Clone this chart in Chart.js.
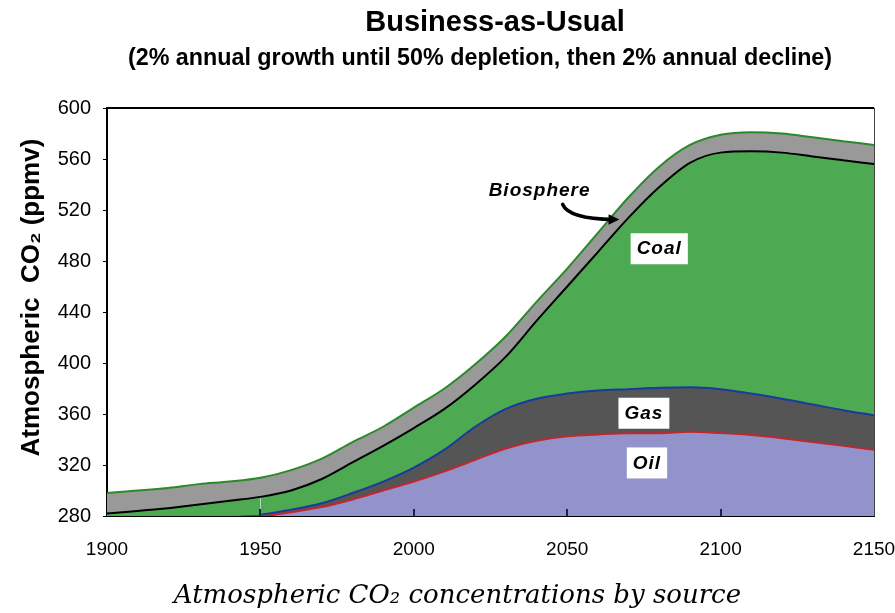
<!DOCTYPE html>
<html>
<head>
<meta charset="utf-8">
<script src="https://cdn.jsdelivr.net/npm/chart.js@4.4.1/dist/chart.umd.min.js"></script>
<style>
  html, body { margin: 0; padding: 0; background: #fff; }
  #wrap { width: 895px; height: 613px; }
</style>
</head>
<body>
<div id="wrap"><canvas id="chartCO2"></canvas></div>
<script>
// values: top edge of each stacked band, ppmv
const years   = [1900, 1910, 1920, 1930, 1940, 1950, 1960, 1970, 1980, 1990, 2000, 2010, 2020,
                 2030, 2040, 2050, 2060, 2070, 2080, 2090, 2100, 2110, 2120, 2130, 2140, 2150];
const oilTop  = [280, 280, 280, 280, 280, 280, 283, 287, 293, 300, 307, 315, 324,
                 333, 339, 342.5, 344, 345, 345, 346, 345, 343.5, 341, 338, 335, 332];
const gasTop  = [280, 280, 280, 280, 280, 281, 285, 290, 298, 307, 318, 332, 350,
                 364, 372, 376, 378.5, 379.5, 380.5, 381, 379.5, 376, 372, 367.5, 363, 359];
const coalTop = [282, 284, 286, 289, 292, 295, 300, 309, 322, 335, 349, 364, 383,
                 405, 433, 460, 487, 514, 538, 557, 565, 566, 565, 562, 559, 556];
const bioTop  = [298, 300, 302, 305, 307, 310, 316, 325, 338, 350, 365, 380, 399,
                 421, 448, 474, 502, 530, 554, 571, 579, 581, 580, 577, 574, 571];

const xTicks = [1900, 1950, 2000, 2050, 2100, 2150];
const yTicks = [280, 320, 360, 400, 440, 480, 520, 560, 600];

const titleText = "Business-as-Usual";
const subtitleText = "(2% annual growth until 50% depletion, then 2% annual decline)";

// in-plot labels, placed in data units
const notes = [
    { text: "Biosphere", year: 2041, ppm: 536, box: false },
    { text: "Coal", year: 2080, ppm: 490, box: true },
    { text: "Gas", year: 2075, ppm: 361, box: true },
    { text: "Oil", year: 2076, ppm: 322, box: true }
];
const arrowPath = [[2048.5, 524.5], [2050.5, 513], [2067, 512.5]];

Chart.defaults.color = "#000";
Chart.defaults.font.family = "'Liberation Sans', Arial, sans-serif";

const pts = arr => arr.map((v, i) => ({ x: years[i], y: v }));
const hideEarly = color => ctx => (ctx.p1.parsed.x <= 1950 ? "rgba(0,0,0,0)" : color);

// headings sit off-centre in the original, so they are drawn by hand
const headingPlugin = {
    id: "heading",
    afterDraw(chart) {
        const { ctx } = chart;
        ctx.save();
        ctx.fillStyle = "#000";
        ctx.textAlign = "center";
        ctx.textBaseline = "middle";
        ctx.font = "bold 29px 'Liberation Sans', Arial, sans-serif";
        ctx.fillText(titleText, 495, 23);
        ctx.font = "bold 23.3px 'Liberation Sans', Arial, sans-serif";
        ctx.fillText(subtitleText, 480, 59);
        ctx.restore();
    }
};

const framePlugin = {
    id: "frame",
    afterDraw(chart) {
        const { ctx, chartArea: a, scales: { x } } = chart;
        ctx.save();
        ctx.strokeStyle = "#000";
        ctx.lineWidth = 2;
        ctx.beginPath();
        ctx.moveTo(a.left, a.top);
        ctx.lineTo(a.right, a.top);
        ctx.stroke();
        ctx.strokeStyle = "#444";
        ctx.lineWidth = 1;
        ctx.beginPath();
        ctx.moveTo(a.right + 0.5, a.top);
        ctx.lineTo(a.right + 0.5, a.bottom);
        ctx.stroke();
        // small inward ticks on the year axis
        ctx.strokeStyle = "#1c2150";
        ctx.lineWidth = 2;
        xTicks.slice(1, -1).forEach(v => {
            const px = Math.round(x.getPixelForValue(v));
            ctx.beginPath();
            ctx.moveTo(px, a.bottom);
            ctx.lineTo(px, a.bottom - 7);
            ctx.stroke();
        });
        ctx.restore();
    }
};

const notesPlugin = {
    id: "notes",
    afterDatasetsDraw(chart) {
        const { ctx, scales: { x, y } } = chart;
        ctx.save();
        ctx.font = "italic bold 19px 'Liberation Sans', Arial, sans-serif";
        ctx.letterSpacing = "1px";
        ctx.textAlign = "center";
        ctx.textBaseline = "middle";
        notes.forEach(n => {
            const px = x.getPixelForValue(n.year);
            const py = y.getPixelForValue(n.ppm);
            if (n.box) {
                const w = ctx.measureText(n.text).width + 12;
                ctx.fillStyle = "#fff";
                ctx.fillRect(px - w / 2, py - 15, w, 31);
            }
            ctx.fillStyle = "#000";
            ctx.fillText(n.text, px, py + 1);
        });

        // curved arrow from "Biosphere" to the grey band
        const p = arrowPath.map(([yr, v]) => [x.getPixelForValue(yr), y.getPixelForValue(v)]);
        ctx.strokeStyle = "#000";
        ctx.lineWidth = 3.5;
        ctx.lineCap = "round";
        ctx.beginPath();
        ctx.moveTo(p[0][0], p[0][1]);
        ctx.quadraticCurveTo(p[1][0], p[1][1], p[2][0] - 6, p[2][1]);
        ctx.stroke();
        const ang = Math.atan2(p[2][1] - p[1][1], p[2][0] - p[1][0]);
        ctx.fillStyle = "#000";
        ctx.beginPath();
        ctx.moveTo(p[2][0], p[2][1]);
        ctx.lineTo(p[2][0] - 12 * Math.cos(ang - 0.45), p[2][1] - 12 * Math.sin(ang - 0.45));
        ctx.lineTo(p[2][0] - 12 * Math.cos(ang + 0.45), p[2][1] - 12 * Math.sin(ang + 0.45));
        ctx.closePath();
        ctx.fill();
        ctx.restore();
    }
};

const canvas = document.getElementById("chartCO2");
new Chart(canvas, {
    type: "line",
    data: {
        datasets: [
            {
                label: "Oil",
                data: pts(oilTop),
                backgroundColor: "#9393cb",
                borderColor: "#c0282d",
                segment: { borderColor: hideEarly("#c0282d") },
                fill: { value: 280 }
            },
            {
                label: "Gas",
                data: pts(gasTop),
                backgroundColor: "#555555",
                borderColor: "#1a3a9c",
                segment: { borderColor: hideEarly("#1a3a9c") },
                fill: "-1"
            },
            {
                label: "Coal",
                data: pts(coalTop),
                backgroundColor: "#4daa52",
                borderColor: "#000",
                fill: "-1"
            },
            {
                label: "Biosphere",
                data: pts(bioTop),
                backgroundColor: "#999999",
                borderColor: "#2a8a2a",
                fill: "-1"
            }
        ]
    },
    options: {
        responsive: true,
        maintainAspectRatio: false,
        animation: false,
        layout: { padding: { left: 0, right: 21, top: 108, bottom: 0 } },
        elements: {
            point: { radius: 0 },
            line: { borderWidth: 2, cubicInterpolationMode: "monotone" }
        },
        plugins: {
            legend: { display: false },
            tooltip: { enabled: false },
            title: { display: false }
        },
        scales: {
            x: {
                type: "linear",
                min: 1900,
                max: 2150,
                z: 1,
                afterBuildTicks: s => { s.ticks = xTicks.map(v => ({ value: v })); },
                afterFit: s => { s.height = 97; s.paddingLeft = 0; s.paddingRight = 0; },
                grid: { drawOnChartArea: false, drawTicks: false },
                border: { display: true, color: "#000", width: 2 },
                ticks: { padding: 22, maxRotation: 0, font: { size: 19 }, callback: v => String(v) },
                title: {
                    display: true,
                    text: "Atmospheric CO\u2082 concentrations by source        ",
                    font: { family: "'DejaVu Serif', serif", style: "italic", size: 26 },
                    padding: { top: 0, bottom: 1 }
                }
            },
            y: {
                min: 280,
                max: 600,
                z: 1,
                afterBuildTicks: s => { s.ticks = yTicks.map(v => ({ value: v })); },
                afterFit: s => { s.width = 107; },
                grid: { drawOnChartArea: false, drawTicks: true, tickLength: 4, color: "#000" },
                border: { display: true, color: "#000", width: 2 },
                ticks: { padding: 12, font: { size: 20 } },
                title: {
                    display: true,
                    text: "    Atmospheric  CO\u2082 (ppmv)",
                    font: { size: 26, weight: "bold" },
                    padding: { top: 16, bottom: 0 }
                }
            }
        }
    },
    plugins: [headingPlugin, framePlugin, notesPlugin]
});
</script>
</body>
</html>
